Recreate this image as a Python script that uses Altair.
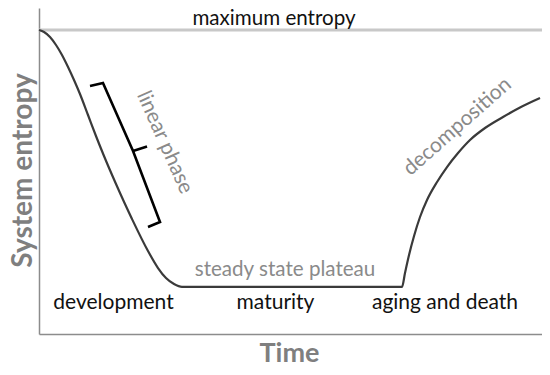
import altair as alt
import pandas as pd

# ---- data (time in % of life span, entropy in % of maximum) ----
curve_time = [0, 0.98, 2.15, 3.33, 4.50, 5.68, 6.85, 8.02, 9.59, 11.15, 12.72,
              15.07, 18.20, 21.33, 23.29, 24.85, 26.42, 27.98,
              71.04, 71.62, 72.41, 73.39, 74.56, 75.93, 77.89, 79.84, 82.00,
              84.34, 87.28, 90.80, 94.13, 98.04]
curve_entropy = [100, 99.34, 97.70, 95.07, 91.78, 87.83, 83.55, 78.95, 72.04, 65.13, 58.55,
                 49.34, 37.83, 27.30, 21.71, 18.42, 16.45, 15.5,
                 15.5, 20.07, 25.99, 32.24, 38.49, 44.08, 50.0, 54.93, 59.54,
                 63.82, 67.76, 71.38, 74.51, 77.63]

bracket_time = [9.98, 12.52, 18.40, 23.68, 21.33, 18.40, 21.14]
bracket_entropy = [81.58, 82.57, 60.20, 36.84, 35.20, 60.20, 61.68]
bracket_part = ["brace", "brace", "brace", "brace", "brace", "nub", "nub"]

max_entropy = 100

stage_labels = ["development", "maturity", "aging and death"]
stage_time = [14.58, 46.28, 79.45]
stage_entropy = [8.22, 8.22, 8.22]

max_label = ["maximum entropy"]
max_label_time = [45.99]
max_label_entropy = [101.64]

plateau_label = ["steady state plateau"]
plateau_time = [48.14]
plateau_entropy = [19.08]

linear_label = ["linear phase"]
linear_time = [24.56]
linear_entropy = [63.0]

decomp_label = ["decomposition"]
decomp_time = [81.90]
decomp_entropy = [68.19]

FONT = "Lato"
GREY = "#8a8a8a"

x_axis = alt.Axis(domain=True, domainColor="#8c8c8c", domainWidth=1.5, ticks=False,
                  labels=False, grid=False, title="Time", titleFont=FONT,
                  titleFontSize=27, titleFontWeight="bold", titleColor="#7f7f7f",
                  titleX=250, titleY=27, titleAlign="center", titleBaseline="alphabetic")
y_axis = alt.Axis(domain=True, domainColor="#8c8c8c", domainWidth=1.5, ticks=False,
                  labels=False, grid=False, title="System entropy", titleFont=FONT,
                  titleFontSize=28, titleFontWeight="bold", titleColor="#7f7f7f",
                  titleX=-8, titleY=162, titleAngle=270, titleAlign="center",
                  titleBaseline="alphabetic")

xs = alt.Scale(domain=[0, 98.43], nice=False, zero=False)
ys = alt.Scale(domain=[0, 107.24], nice=False, zero=False)


def X():
    return alt.X("t:Q", scale=xs, axis=x_axis)


def Y():
    return alt.Y("E:Q", scale=ys, axis=y_axis)


curve_df = pd.DataFrame({"t": curve_time, "E": curve_entropy,
                         "i": list(range(len(curve_time)))})
bracket_df = pd.DataFrame({"t": bracket_time, "E": bracket_entropy,
                           "seg": bracket_part, "i": list(range(len(bracket_time)))})
max_df = pd.DataFrame({"E": [max_entropy]})

max_rule = alt.Chart(max_df).mark_rule(color="#c8c8c8", strokeWidth=3).encode(y=Y())

curve = alt.Chart(curve_df).mark_line(color="#3a3a3a", strokeWidth=2.2,
                                      interpolate="monotone").encode(
    x=X(), y=Y(), order="i:Q")

bracket = alt.Chart(bracket_df).mark_line(color="black", strokeWidth=2.6,
                                          interpolate="linear").encode(
    x=X(), y=Y(), detail="seg:N", order="i:Q")


def text_layer(texts, ts, es, color, size=20.6, angle=0, baseline="alphabetic"):
    df = pd.DataFrame({"label": texts, "t": ts, "E": es})
    return alt.Chart(df).mark_text(font=FONT, fontSize=size, color=color, angle=angle,
                                   align="center", baseline=baseline).encode(
        x=X(), y=Y(), text="label:N")


layers = [
    max_rule,
    curve,
    bracket,
    text_layer(stage_labels, stage_time, stage_entropy, "#111111", size=21),
    text_layer(max_label, max_label_time, max_label_entropy, "#111111"),
    text_layer(plateau_label, plateau_time, plateau_entropy, GREY),
    text_layer(linear_label, linear_time, linear_entropy, GREY, size=21, angle=66,
               baseline="middle"),
    text_layer(decomp_label, decomp_time, decomp_entropy, GREY, size=21, angle=318.6,
               baseline="middle"),
]

chart = alt.layer(*layers).properties(
    width=503, height=326,
    autosize=alt.AutoSizeParams(type="none"),
    padding={"left": 31, "top": 0, "right": 0, "bottom": 33},
).configure_view(stroke=None)

chart.save("out.html", embed_options={"renderer": "svg", "actions": False})
